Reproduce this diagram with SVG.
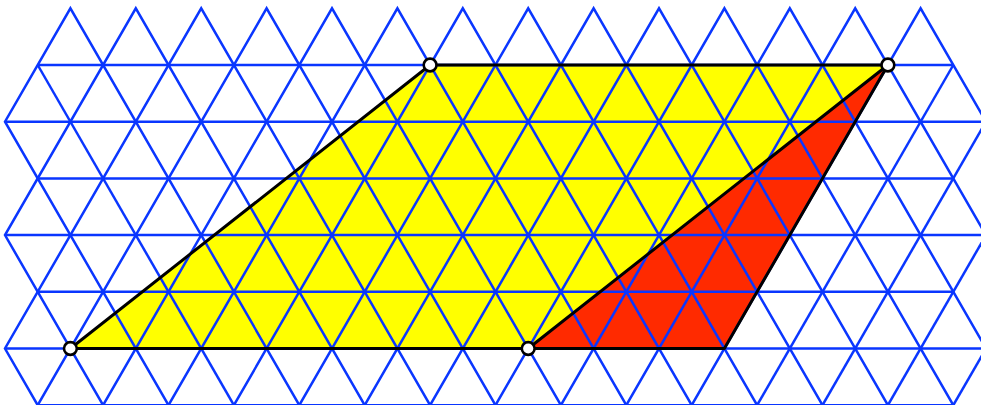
<svg xmlns="http://www.w3.org/2000/svg" width="981" height="405" viewBox="0 0 981 405">
<style>
.lat{fill:none;stroke:#0a36ff;stroke-width:2.5;stroke-linejoin:miter;stroke-miterlimit:10}
.edge{fill:none;stroke:#000;stroke-width:3;stroke-linejoin:round}
.pt{fill:#fff;stroke:#000;stroke-width:2.6}
</style>
<rect width="981" height="405" fill="#fff"/>
<g id="fills">
<polygon id="parallelogram" points="70.4,348.5 528.2,348.5 887.9,65 430.1,65" fill="#ffff00"/>
<polygon id="triangle" points="528.2,348.5 887.9,65 724.4,348.5" fill="#ff2a00"/>
</g>
<g id="lattice" class="lat">
<path d="M37.7,65H953.3M5,121.7H986M37.7,178.4H953.3M5,235.1H986M37.7,291.8H953.3M5,348.5H986M37.7,405.2H953.3"/>
<path d="M168.5,405.2L5,121.7L70.4,8.3L299.3,405.2"/>
<path d="M103.1,405.2L5,235.1L135.8,8.3L364.7,405.2"/>
<path d="M37.7,405.2L5,348.5L201.2,8.3L430.1,405.2"/>
<path d="M37.7,65L233.9,405.2"/>
<path d="M37.7,405.2L266.6,8.3L495.5,405.2"/>
<path d="M103.1,405.2L332,8.3L560.9,405.2"/>
<path d="M168.5,405.2L397.4,8.3L626.3,405.2"/>
<path d="M233.9,405.2L462.8,8.3L691.7,405.2"/>
<path d="M299.3,405.2L528.2,8.3L757.1,405.2"/>
<path d="M364.7,405.2L593.6,8.3L822.5,405.2"/>
<path d="M430.1,405.2L659,8.3L887.9,405.2"/>
<path d="M495.5,405.2L724.4,8.3L953.3,405.2"/>
<path d="M560.9,405.2L789.8,8.3L986,348.5"/>
<path d="M626.3,405.2L855.2,8.3L986,235.1"/>
<path d="M691.7,405.2L920.6,8.3L986,121.7"/>
<path d="M953.3,65L757.1,405.2"/>
<path d="M986,121.7L822.5,405.2"/>
<path d="M986,235.1L887.9,405.2"/>
<path d="M986,348.5L953.3,405.2"/>
</g>
<g id="outlines" class="edge">
<path d="M70.4,348.5L528.2,348.5L887.9,65L430.1,65Z"/>
<path d="M528.2,348.5L724.4,348.5L887.9,65"/>
</g>
<g id="points">
<g id="A"><circle class="pt" cx="70.4" cy="348.5" r="6.4"/></g>
<g id="B"><circle class="pt" cx="528.2" cy="348.5" r="6.4"/></g>
<g id="C"><circle class="pt" cx="887.9" cy="65" r="6.4"/></g>
<g id="D"><circle class="pt" cx="430.1" cy="65" r="6.4"/></g>
</g>
</svg>
